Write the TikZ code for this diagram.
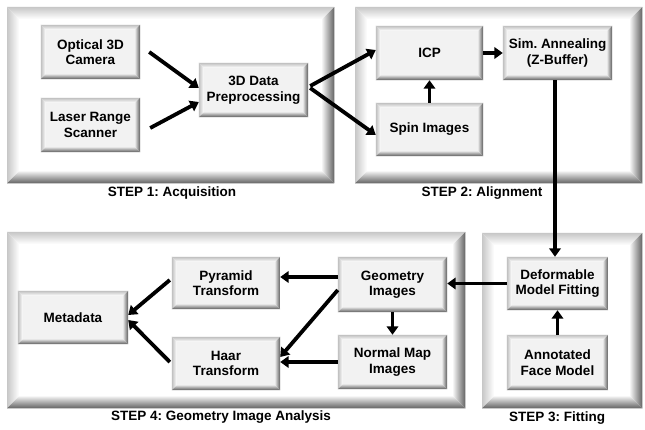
\documentclass[tikz,border=0pt]{standalone}
\usepackage{fontspec}
\setmainfont{Liberation Sans}
\frenchspacing
\usetikzlibrary{calc,arrows.meta}

% Bevelled frame drawn on the border of a named node:
% #1 node, #2 band width, #3 light edge colour, #4 dark edge colour, #5 inner dark colour
\newcommand\bevelframe[5]{%
  \path (#1.north west) coordinate (bvA) (#1.south east) coordinate (bvB);
  \path ($(bvA)+(#2,#2)$) coordinate (bvC) ($(bvB)-(#2,#2)$) coordinate (bvD);
  \shade[top color=#3, bottom color=white]
    (bvA) -- (bvA-|bvB) -- (bvC-|bvD) -- (bvC) -- cycle;
  \shade[left color=#3, right color=white]
    (bvA) -- (bvC) -- (bvC|-bvD) -- (bvA|-bvB) -- cycle;
  \shade[top color=#5, bottom color=#4]
    (bvA|-bvB) -- (bvC|-bvD) -- (bvD) -- (bvB) -- cycle;
  \shade[left color=#5, right color=#4]
    (bvA-|bvB) -- (bvC-|bvD) -- (bvD) -- (bvB) -- cycle;
}

\tikzset{
  panel/.style={fill=white, draw=none, inner sep=0pt, anchor=north west},
  box/.style={fill=black!5, draw=none, inner sep=0pt, align=center,
    font=\bfseries\fontsize{13.5}{15.5}\selectfont},
  caption/.style={font=\bfseries\fontsize{13.5}{16}\selectfont, inner sep=0pt},
  flow/.style={line width=3.8pt, -{Triangle[length=8.5pt,width=11.5pt]}}
}

\begin{document}
\begin{tikzpicture}[x=1pt, y=-1pt]
\useasboundingbox (0,0) rectangle (645,430);

% ---- panels ----
\node[panel, minimum width=327pt, minimum height=176pt] (p1) at (7,7) {};
\node[panel, minimum width=287pt, minimum height=176pt] (p2) at (355,7) {};
\node[panel, minimum width=458pt, minimum height=176pt] (p4) at (7,232) {};
\node[panel, minimum width=160pt, minimum height=175pt] (p3) at (482,233) {};
\foreach \p in {p1,p2,p3,p4} {\bevelframe{\p}{12}{black!22}{black!62}{black!6}}

\node[caption] (c1) at (172,193) {STEP 1: Acquisition};
\node[caption] (c2) at (482,193) {STEP 2: Alignment};
\node[caption] (c4) at (221,417) {STEP 4: Geometry Image Analysis};
\node[caption] (c3) at (557,418) {STEP 3: Fitting};

% ---- step 1 ----
\node[box, minimum width=99pt, minimum height=54pt] (cam) at (90.5,52) {Optical 3D\\Camera};
\node[box, minimum width=99pt, minimum height=54pt] (las) at (90.5,125) {Laser Range\\Scanner};
\node[box, minimum width=109pt, minimum height=54pt] (pre) at (253.5,90) {3D Data\\Preprocessing};

% ---- step 2 ----
\node[box, minimum width=107pt, minimum height=54pt] (icp) at (429.5,53) {ICP};
\node[box, minimum width=109pt, minimum height=54pt] (sim) at (557.5,53) {Sim. Annealing\\(Z-Buffer)};
\node[box, minimum width=107pt, minimum height=53pt] (spin) at (429.5,129.5) {Spin Images};

% ---- step 4 ----
\node[box, minimum width=110pt, minimum height=53pt] (meta) at (73,317.5) {Metadata};
\node[box, minimum width=108pt, minimum height=52pt] (pyr) at (226,283) {Pyramid\\Transform};
\node[box, minimum width=108pt, minimum height=53pt] (haar) at (226,363.5) {Haar\\Transform};
\node[box, minimum width=109pt, minimum height=55pt] (geo) at (392.5,284.5) {Geometry\\Images};
\node[box, minimum width=109pt, minimum height=54pt] (norm) at (392.5,362) {Normal Map\\Images};

% ---- step 3 ----
\node[box, minimum width=101pt, minimum height=53pt] (def) at (557.5,283.5) {Deformable\\Model Fitting};
\node[box, minimum width=101pt, minimum height=55pt] (ann) at (557.5,362.5) {Annotated\\Face Model};

\foreach \b in {cam,las,pre,icp,sim,spin,meta,pyr,haar,geo,norm,def,ann}
  {\bevelframe{\b}{5}{black!25}{black!65}{black!12}}

% ---- connectors ----
\draw[flow] ([xshift=9pt]cam.east) -- ([yshift=2pt]pre.west);
\draw[flow] ([xshift=10pt,yshift=-3pt]las.east) -- ([yshift=-12pt]pre.west);
\draw[flow] ([xshift=2pt,yshift=4pt]pre.east) -- ([yshift=3pt]icp.west);
\draw[flow] ([xshift=2pt,yshift=2pt]pre.east) -- ([yshift=-5.5pt]spin.west);
\draw[flow] (icp.east) -- (sim.west);
\draw[flow] (spin.north) -- (icp.south);
\draw[flow] ([xshift=-2.5pt]sim.south) -- ([xshift=-2.5pt]def.north);
\draw[flow] (def.west) -- (def.west -| geo.east);
\draw[flow] (ann.north) -- (def.south);
\draw[flow] ([yshift=7.5pt]geo.west) -- ([yshift=7.5pt]geo.west -| pyr.east);
\draw[flow] ([yshift=-5.5pt]geo.west) -- ([yshift=6.5pt]haar.east);
\draw[flow] (norm.west) -- (norm.west -| haar.east);
\draw[flow] (geo.south) -- (norm.north);
\draw[flow] ([xshift=-2pt,yshift=3pt]pyr.west) -- ([yshift=2.5pt]meta.east);
\draw[flow] ([xshift=-2pt,yshift=1.5pt]haar.west) -- ([yshift=-2.5pt]meta.east);
\end{tikzpicture}
\end{document}
